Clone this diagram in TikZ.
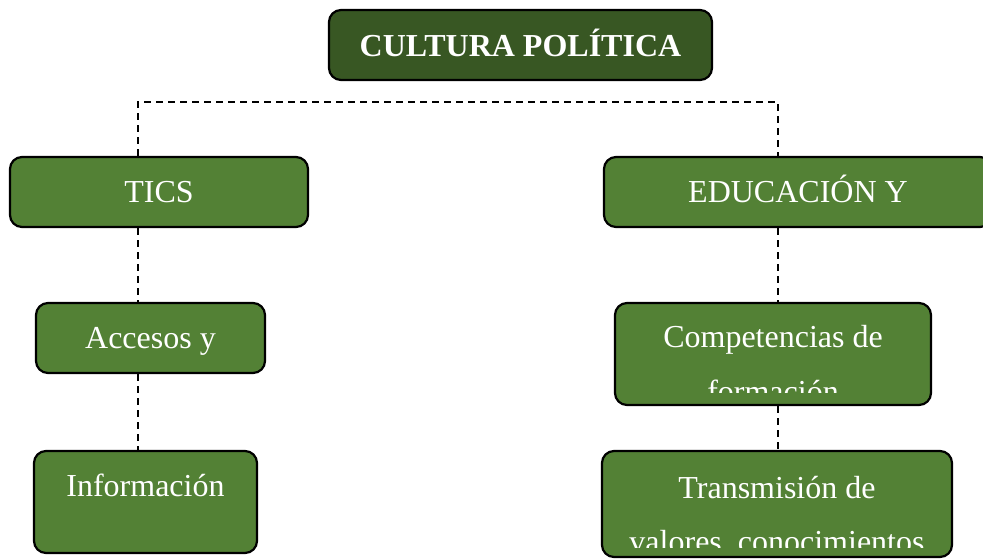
\documentclass[tikz,border=0pt]{standalone}
\usepackage{fontspec}
\setmainfont{Liberation Serif}
\usepackage{tikz}
\usetikzlibrary{calc, positioning}

\definecolor{verdeoscuro}{HTML}{385723}
\definecolor{verdecaja}{HTML}{538135}

\tikzset{
    caja/.style={draw=black, line width=2.2pt, rounded corners=12pt, fill=verdecaja,
        inner sep=0pt, rectangle},
    texto/.style={text=white, anchor=base, inner sep=0pt, font=\fontsize{32}{38}\selectfont},
    enlace/.style={line width=1.4pt, dash pattern=on 7pt off 5pt}
}

\begin{document}
\begin{tikzpicture}[x=1pt, y=-1pt]
    \useasboundingbox (0,0) rectangle (983,558);
    \clip (0,0) rectangle (983,558);

    % Titulo
    \node[caja, fill=verdeoscuro, minimum width=383pt, minimum height=70pt] (cultura) at (520.5,45) {};
    \node[texto, font=\fontsize{32}{38}\selectfont\bfseries] (culturaT) at (520.5,56) {CULTURA POLÍTICA};

    % Nivel 1
    \node[caja, minimum width=298pt, minimum height=70pt] (tics) at (159,192) {};
    \node[texto] (ticsT) at (159,202) {TICS};
    \node[caja, minimum width=388pt, minimum height=70pt] (edu) at (798,192) {};
    \node[texto] (eduT) at (798,202) {EDUCACIÓN Y};

    % Nivel 2
    \node[caja, minimum width=229pt, minimum height=70pt] (acc) at (150.5,338) {};
    \node[texto] (accT) at (150.5,348) {Accesos y};
    \node[caja, minimum width=316pt, minimum height=102pt] (comp) at (773,354) {};
    \node[texto] (compT) at (773,347) {Competencias de};
    \begin{scope}
        \clip (615,303) rectangle (931,392);
        \node[texto] (compT2) at (773,402.5) {formación};
    \end{scope}

    % Nivel 3
    \node[caja, minimum width=223pt, minimum height=102pt] (info) at (145.5,502) {};
    \node[texto] (infoT) at (145.5,496) {Información};
    \node[caja, minimum width=350pt, minimum height=106pt] (trans) at (777,504) {};
    \node[texto] (transT) at (777,498) {Transmisión de};
    \begin{scope}
        \clip (602,451) rectangle (952,547);
        \node[texto] (transT2) at (777,552.5) {valores, conocimientos};
    \end{scope}

    % Conectores
    \coordinate (ejeizq) at (138,102);
    \coordinate (ejeder) at (778,102);
    \draw[enlace] (ejeizq |- tics.north) -- (ejeizq) -- (ejeder) -- (ejeder |- edu.north);
    \draw[enlace] (ejeizq |- tics.south) -- (ejeizq |- acc.north);
    \draw[enlace] (ejeizq |- acc.south) -- (ejeizq |- info.north);
    \draw[enlace] (ejeder |- edu.south) -- (ejeder |- comp.north);
    \draw[enlace] (ejeder |- comp.south) -- (ejeder |- trans.north);
\end{tikzpicture}
\end{document}
